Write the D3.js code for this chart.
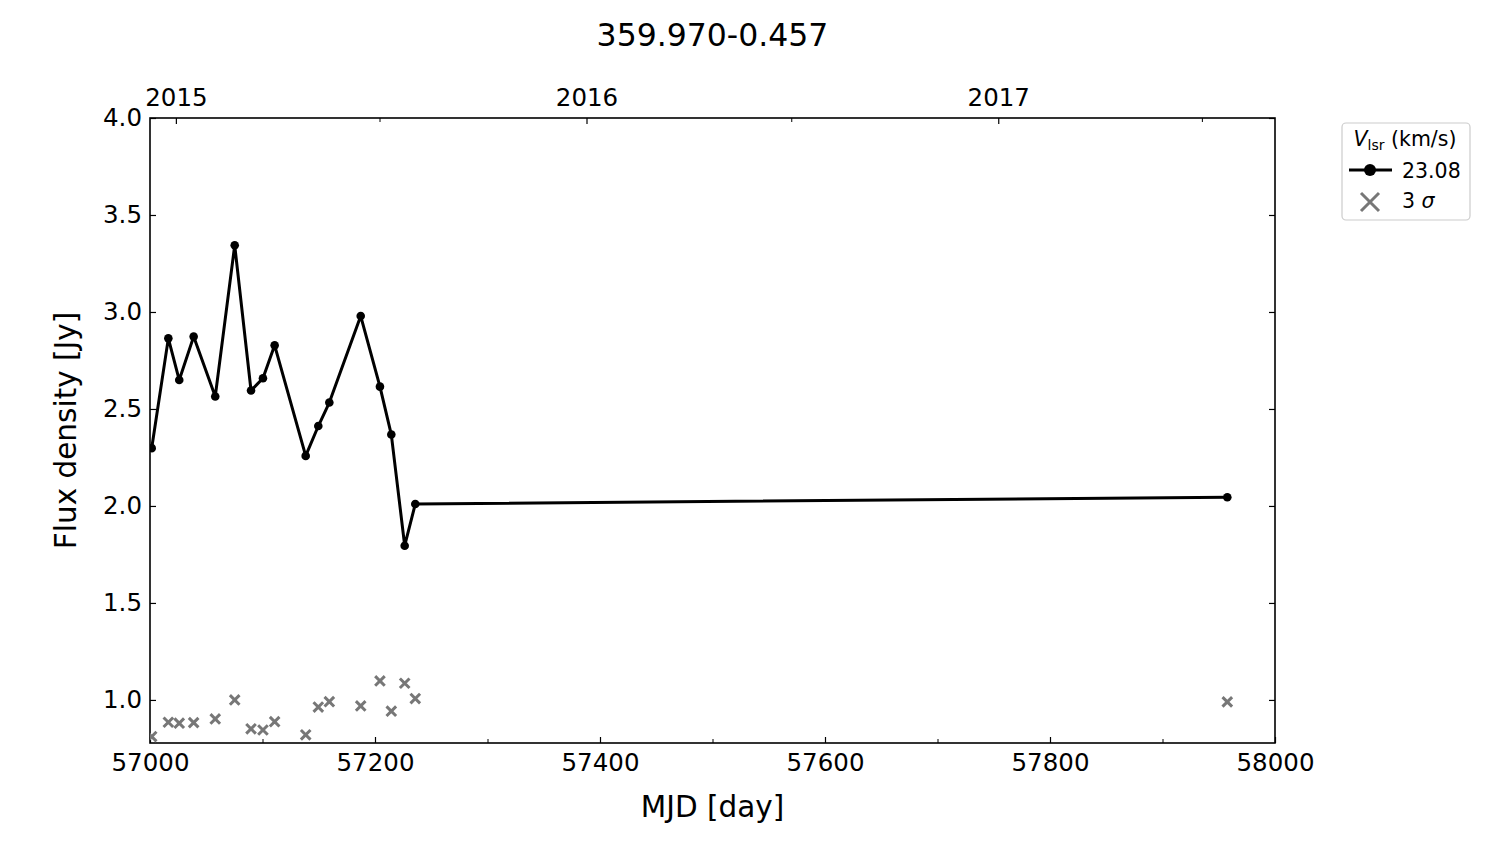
<!DOCTYPE html>
<html>
<head>
<meta charset="utf-8">
<script src="https://cdn.jsdelivr.net/npm/d3@7"></script>
<style>
  body { margin: 0; background: #fff; }
  svg { font-family: "DejaVu Sans", sans-serif; }
</style>
</head>
<body>
<svg id="chart" width="1500" height="844"></svg>
<script>
// ---- data ----
const title = "359.970-0.457";
const mjd = [57001.5, 57016.3, 57026.0, 57038.8, 57058.0, 57075.3, 57089.8, 57100.4, 57110.8,
             57138.4, 57149.6, 57159.4, 57187.3, 57204.4, 57214.5, 57226.4, 57235.8, 57957.6];
const flux = [2.298, 2.864, 2.649, 2.873, 2.564, 3.344, 2.595, 2.658, 2.828,
              2.258, 2.412, 2.533, 2.979, 2.615, 2.368, 1.795, 2.010, 2.045];
const sigma3 = [0.811, 0.885, 0.880, 0.883, 0.902, 1.000, 0.851, 0.845, 0.888,
                0.820, 0.963, 0.991, 0.969, 1.098, 0.942, 1.086, 1.007, 0.990];
const seriesLabel = "23.08";
const xTicks = [57000, 57200, 57400, 57600, 57800, 58000];
const xMinorTicks = [57100, 57300, 57500, 57700, 57900];
const yTicks = [1.0, 1.5, 2.0, 2.5, 3.0, 3.5, 4.0];
const yearLabels = ["2015", "2016", "2017"];
const halfYearDates = ["2015-07-01", "2016-07-01", "2017-07-01"];
const xDomain = [57000, 58000];
const yDomain = [0.778, 4.0];

// ---- layout ----
const svg = d3.select("#chart");
const L = 150, R = 1275, T = 118, B = 743;
const x = d3.scaleLinear().domain(xDomain).range([L, R]);
const y = d3.scaleLinear().domain(yDomain).range([B, T]);

function dateToMJD(s) {
  const [yy, mm, dd] = s.split("-").map(Number);
  return (Date.UTC(yy, mm - 1, dd) - Date.UTC(1858, 10, 17)) / 86400000;
}
const yearMJD = yearLabels.map(yl => dateToMJD(yl + "-01-01"));
const halfMJD = halfYearDates.map(dateToMJD);

const tickFont = 24.5;
const TL = 6, TLm = 4;

// clip
svg.append("defs").append("clipPath").attr("id", "clip")
  .append("rect").attr("x", L).attr("y", T).attr("width", R - L).attr("height", B - T);

// bottom axis
const xAxisB = d3.axisBottom(x).tickValues(xTicks).tickFormat(d3.format("d"))
  .tickSizeInner(-TL).tickSizeOuter(0).tickPadding(11);
const gb = svg.append("g").attr("transform", `translate(0,${B})`).call(xAxisB);
gb.select(".domain").remove();
gb.selectAll("text").attr("font-size", tickFont).attr("font-family", "DejaVu Sans").attr("fill", "#000");
gb.selectAll("line").attr("stroke", "#000").attr("stroke-width", 1.2);
const gbm = svg.append("g").attr("transform", `translate(0,${B})`)
  .call(d3.axisBottom(x).tickValues(xMinorTicks).tickFormat("").tickSizeInner(-TLm).tickSizeOuter(0));
gbm.select(".domain").remove();
gbm.selectAll("line").attr("stroke", "#000").attr("stroke-width", 1);

// top axis (years)
const gt = svg.append("g").attr("transform", `translate(0,${T})`)
  .call(d3.axisTop(x).tickValues(yearMJD).tickFormat((d, i) => yearLabels[i])
    .tickSizeInner(-TL).tickSizeOuter(0).tickPadding(12));
gt.select(".domain").remove();
gt.selectAll("text").attr("font-size", tickFont).attr("font-family", "DejaVu Sans").attr("fill", "#000");
gt.selectAll("line").attr("stroke", "#000").attr("stroke-width", 1.2);
const gtm = svg.append("g").attr("transform", `translate(0,${T})`)
  .call(d3.axisTop(x).tickValues(halfMJD).tickFormat("").tickSizeInner(-TLm).tickSizeOuter(0));
gtm.select(".domain").remove();
gtm.selectAll("line").attr("stroke", "#000").attr("stroke-width", 1);

// left axis
const gl = svg.append("g").attr("transform", `translate(${L},0)`)
  .call(d3.axisLeft(y).tickValues(yTicks).tickFormat(d3.format(".1f"))
    .tickSizeInner(-TL).tickSizeOuter(0).tickPadding(8));
gl.select(".domain").remove();
gl.selectAll("text").attr("font-size", tickFont).attr("font-family", "DejaVu Sans").attr("fill", "#000");
gl.selectAll("line").attr("stroke", "#000").attr("stroke-width", 1.2);

// right axis ticks
const gr = svg.append("g").attr("transform", `translate(${R},0)`)
  .call(d3.axisRight(y).tickValues(yTicks).tickFormat("").tickSizeInner(-TL).tickSizeOuter(0));
gr.select(".domain").remove();
gr.selectAll("line").attr("stroke", "#000").attr("stroke-width", 1.2);

// frame
svg.append("rect").attr("x", L).attr("y", T).attr("width", R - L).attr("height", B - T)
  .attr("fill", "none").attr("stroke", "#000").attr("stroke-width", 1.6);

// data
const plot = svg.append("g").attr("clip-path", "url(#clip)");
const pts = mjd.map((m, i) => ({ m, f: flux[i], s: sigma3[i] }));

// 3 sigma crosses
const cs = 4.8;
plot.selectAll(".sig").data(pts).enter().append("path")
  .attr("d", d => {
    const cx = x(d.m), cy = y(d.s);
    return `M${cx - cs},${cy - cs}L${cx + cs},${cy + cs}M${cx - cs},${cy + cs}L${cx + cs},${cy - cs}`;
  })
  .attr("stroke", "#777").attr("stroke-width", 3).attr("fill", "none");

// line
plot.append("path").datum(pts)
  .attr("d", d3.line().x(d => x(d.m)).y(d => y(d.f)))
  .attr("fill", "none").attr("stroke", "#000").attr("stroke-width", 3).attr("stroke-linejoin", "round");
plot.selectAll(".pt").data(pts).enter().append("circle")
  .attr("cx", d => x(d.m)).attr("cy", d => y(d.f)).attr("r", 4.3).attr("fill", "#000");

// title and labels
svg.append("text").attr("x", (L + R) / 2).attr("y", 46).attr("text-anchor", "middle")
  .attr("font-size", 31.5).attr("fill", "#000").text(title);
svg.append("text").attr("x", (L + R) / 2).attr("y", 817).attr("text-anchor", "middle")
  .attr("font-size", 29.5).attr("fill", "#000").text("MJD [day]");
svg.append("text").attr("transform", `translate(76,${(T + B) / 2}) rotate(-90)`)
  .attr("text-anchor", "middle").attr("font-size", 29.5).attr("fill", "#000").text("Flux density [Jy]");

// legend
const lg = svg.append("g");
lg.append("rect").attr("x", 1342).attr("y", 123).attr("width", 128).attr("height", 97)
  .attr("rx", 4).attr("fill", "#fff").attr("stroke", "#ccc").attr("stroke-width", 1.2);
const lt = lg.append("text").attr("x", 1405).attr("y", 146).attr("text-anchor", "middle")
  .attr("font-size", 20.5).attr("fill", "#000");
lt.append("tspan").attr("font-style", "italic").text("V");
lt.append("tspan").attr("font-size", 14).attr("dy", 4).text("lsr");
lt.append("tspan").attr("dy", -4).text(" (km/s)");
lg.append("line").attr("x1", 1349).attr("x2", 1392).attr("y1", 170).attr("y2", 170)
  .attr("stroke", "#000").attr("stroke-width", 3);
lg.append("circle").attr("cx", 1370).attr("cy", 170).attr("r", 6).attr("fill", "#000");
lg.append("text").attr("x", 1402).attr("y", 178).attr("font-size", 20.5).attr("fill", "#000").text(seriesLabel);
const lc = 9;
lg.append("path")
  .attr("d", `M${1370 - lc},${202 - lc}L${1370 + lc},${202 + lc}M${1370 - lc},${202 + lc}L${1370 + lc},${202 - lc}`)
  .attr("stroke", "#777").attr("stroke-width", 3);
const st = lg.append("text").attr("x", 1402).attr("y", 208).attr("font-size", 20.5).attr("fill", "#000");
st.append("tspan").text("3 ");
st.append("tspan").attr("font-style", "italic").text("σ");
</script>
</body>
</html>
